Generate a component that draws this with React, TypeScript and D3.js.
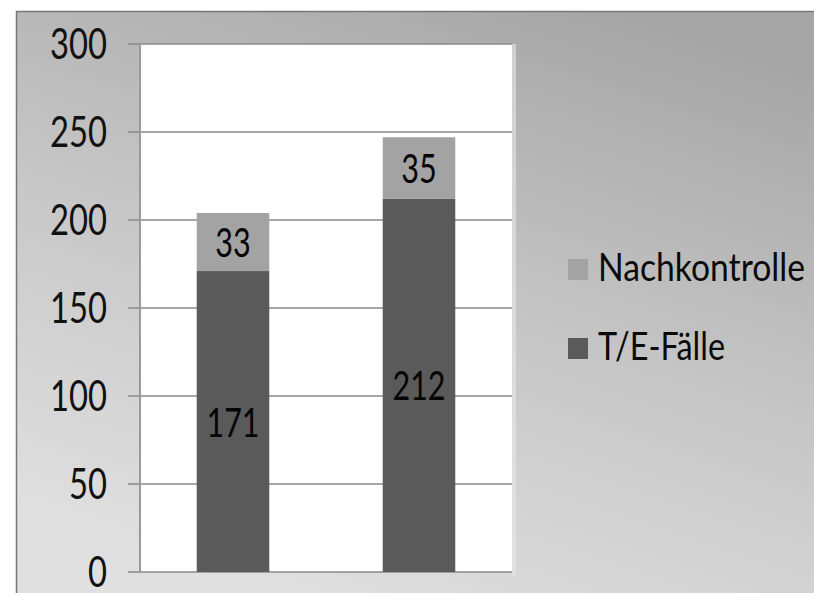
import React from "react";
import * as d3 from "d3";

const categories = ["A", "B"];
const teFaelle = [171, 212];
const nachkontrolle = [33, 35];
const yTicks = [0, 50, 100, 150, 200, 250, 300];
const legendItems = ["Nachkontrolle", "T/E-Fälle"];

const W = 814;
const H = 593;
const plot = { left: 140, right: 512, top: 44, bottom: 572 };
const FONT = "Lato, 'Open Sans', sans-serif";
const colTE = "#5a5a5a";
const colNK = "#a3a3a3";

export default function App() {
  const x = d3
    .scaleBand<string>()
    .domain(categories)
    .range([plot.left, plot.right])
    .paddingInner(0.61)
    .paddingOuter(0.305);
  const y = d3.scaleLinear().domain([0, 300]).range([plot.bottom, plot.top]);
  const stackData = categories.map((c, i) => ({ c, te: teFaelle[i], nk: nachkontrolle[i] }));
  const series = d3.stack<any>().keys(["te", "nk"])(stackData);
  const colors: Record<string, string> = { te: colTE, nk: colNK };

  return (
    <svg
      width={W}
      height={H}
      style={{ position: "absolute", left: 0, top: 0, background: "#fff" }}
    >
      <defs>
        <linearGradient id="bg" x1="0.75" y1="0" x2="0.3" y2="1">
          <stop offset="0" stopColor="#a6a6a6" />
          <stop offset="0.5" stopColor="#c6c6c6" />
          <stop offset="1" stopColor="#e0e0e0" />
        </linearGradient>
      </defs>
      <rect x={16} y={11} width={W - 16} height={H - 11} fill="url(#bg)" />
      <line x1={16} y1={11.5} x2={W} y2={11.5} stroke="#777" strokeWidth={1.5} />
      <line x1={16.5} y1={11} x2={16.5} y2={H} stroke="#777" strokeWidth={1.5} />

      {/* plot area */}
      <rect x={plot.right} y={plot.top} width={4} height={plot.bottom - plot.top + 4} fill="#e8e8e8" opacity={0.6} />
      <rect x={plot.left} y={plot.top} width={plot.right - plot.left} height={plot.bottom - plot.top} fill="#fff" />

      {/* grid + ticks */}
      {yTicks.map((t) => (
        <g key={t}>
          <line x1={plot.left - 12} x2={plot.right} y1={y(t)} y2={y(t)} stroke="#8a8a8a" strokeWidth={1.6} />
          <text
            x={107}
            y={y(t) + 14.5}
            textAnchor="end"
            fontFamily={FONT}
            fontSize={42}
            fill="#111"
            textLength={String(t).length * 19}
            lengthAdjust="spacingAndGlyphs"
          >
            {t}
          </text>
        </g>
      ))}
      <line x1={plot.left} x2={plot.left} y1={plot.top} y2={plot.bottom} stroke="#9a9a9a" strokeWidth={2} />

      {/* bars */}
      {series.map((s) => (
        <g key={s.key}>
          {s.map((d: any, i: number) => {
            const val = d[1] - d[0];
            const bx = x(categories[i])!;
            const cy = (y(d[0]) + y(d[1])) / 2;
            return (
              <g key={i}>
                <rect
                  x={bx}
                  y={y(d[1])}
                  width={x.bandwidth()}
                  height={y(d[0]) - y(d[1])}
                  fill={colors[s.key]}
                />
                <text
                  x={bx + x.bandwidth() / 2}
                  y={cy + 15}
                  textAnchor="middle"
                  fontFamily={FONT}
                  fontSize={41}
                  fill="#050505"
                  textLength={String(val).length * 17.7}
                  lengthAdjust="spacingAndGlyphs"
                >
                  {val}
                </text>
              </g>
            );
          })}
        </g>
      ))}

      {/* legend */}
      {legendItems.map((name, i) => {
        const ly = 259 + i * 79;
        return (
          <g key={name}>
            <rect x={568} y={ly} width={20} height={21} fill={i === 0 ? colNK : colTE} />
            <text
              x={598}
              y={ly + 22}
              fontFamily={FONT}
              fontSize={39}
              fill="#0a0a0a"
              textLength={i === 0 ? 207 : 127}
              lengthAdjust="spacingAndGlyphs"
            >
              {name}
            </text>
          </g>
        );
      })}
    </svg>
  );
}
